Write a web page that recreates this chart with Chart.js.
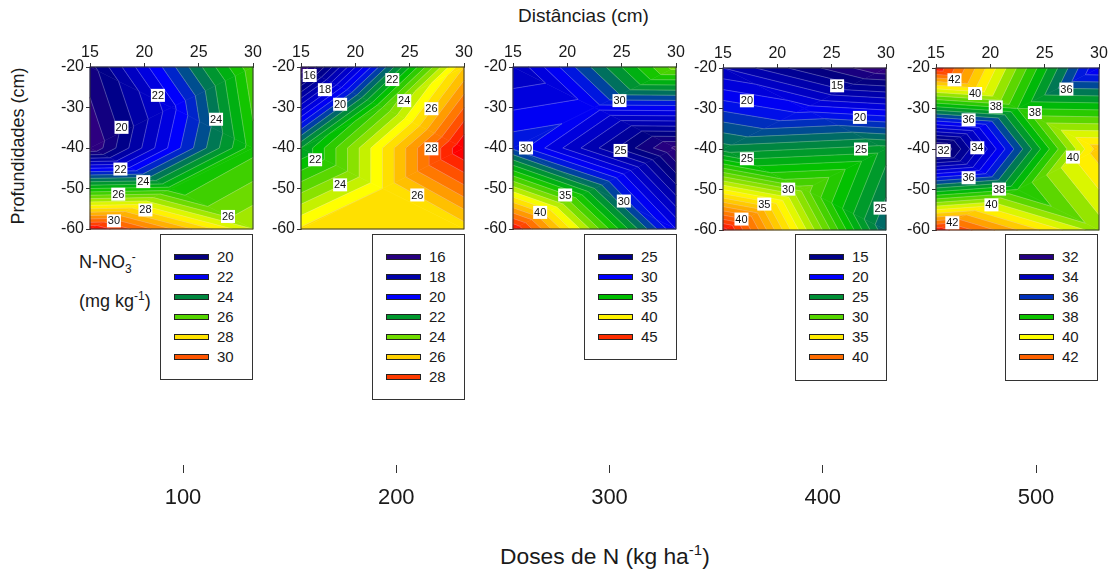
<!DOCTYPE html>
<html>
<head>
<meta charset="utf-8">
<style>
  html, body { margin: 0; padding: 0; background: #fff; width: 1115px; height: 573px; overflow: hidden; }
  body { font-family: 'Liberation Sans', Arial, sans-serif; color: #1a1a1a; position: relative; }
  canvas { position: absolute; }
  .txt { position: absolute; white-space: nowrap; }
  .txt sup, .txt sub { font-size: 12px; line-height: 0; }
  .legend-box { position: absolute; border: 1px solid #333; background: #fff; box-sizing: border-box; }
  .swatch { position: absolute; width: 35px; height: 6px; box-sizing: border-box; border: 1px solid #222; }
  .legend-txt { position: absolute; font-size: 15px; line-height: 16px; }
</style>
</head>
<body>
<div class="txt" style="left:518px;top:5px;font-size:19px;">Distâncias (cm)</div>
<div class="txt" style="left:18px;top:146px;font-size:18px;transform:translate(-50%,-50%) rotate(-90deg);">Profundidades (cm)</div>
<div class="txt" style="left:79px;top:252px;font-size:18px;">N-NO<sub>3</sub><sup>-</sup></div>
<div class="txt" style="left:79px;top:291px;font-size:18px;">(mg kg<sup>-1</sup>)</div>
<div class="txt" style="left:500px;top:543px;font-size:22.8px;">Doses de N (kg ha<sup style="font-size:15px">-1</sup>)</div>
<canvas id="doseAxis" width="940" height="70" style="left:140px;top:440px;"></canvas>
<script src="https://cdn.jsdelivr.net/npm/chart.js@4"></script>
<script>
// --- 1. Data ---
const doses = ['100', '200', '300', '400', '500'];
const xTicks = [15, 20, 25, 30];
const yTicks = [-20, -30, -40, -50, -60];

// sampling points, same for every panel
const nodeX = [15, 30, 22.5, 15, 30, 22.5, 15, 30];
const nodeY = [-20, -20, -30, -40, -40, -50, -60, -60];
const triangles = [[0,1,2],[0,2,3],[1,2,4],[2,3,4],[3,4,5],[3,5,6],[4,5,7],[5,6,7]];

// N-NO3 at each sampling point
const values100 = [19.8, 25.9, 21.8, 19.0, 25.3, 25.2, 31.0, 27.0];
const values200 = [15.5, 26.0, 23.5, 22.0, 29.0, 25.5, 25.6, 25.7];
const values300 = [27.0, 37.5, 29.5, 30.75, 21.75, 33.0, 46.0, 29.0];
const values400 = [17.0, 12.0, 19.5, 24.5, 25.5, 30.5, 43.5, 23.0];
const values500 = [42.9, 35.0, 38.0, 31.6, 40.8, 38.0, 42.8, 39.2];

const steps = [0.5, 0.5, 1, 1, 0.5];
// value that takes the purple, the pure blue and the red end of the colour ramp
const colorMin = [19, 15.5, 21.5, 12, 31.5];
const colorBlue = [22.3, 20, 30, 20, 35.5];
const colorMax = [31, 28.7, 46, 43.5, 43];

// contour labels [x, y, text]
const labels100 = [[21.25,-27,'22'],[17.9,-34.9,'20'],[26.6,-32.9,'24'],[17.8,-45.2,'22'],[19.9,-48.3,'24'],[17.6,-51.4,'26'],[20.1,-55.3,'28'],[17.2,-58,'30'],[27.7,-56.9,'26']];
const labels200 = [[15.8,-22.1,'16'],[17.2,-25.6,'18'],[18.6,-29.2,'20'],[23.4,-23.1,'22'],[24.5,-28.3,'24'],[27,-30.3,'26'],[27,-40.2,'28'],[16.3,-42.9,'22'],[18.6,-49.1,'24'],[25.7,-51.6,'26']];
const labels300 = [[24.8,-28.3,'30'],[16.2,-40,'30'],[24.9,-40.6,'25'],[19.8,-51.6,'35'],[25.2,-53.1,'30'],[17.5,-55.9,'40']];
const labels400 = [[25.5,-24.4,'15'],[17.2,-28.1,'20'],[27.6,-32.2,'20'],[27.7,-40,'25'],[17.2,-42.4,'25'],[21,-49.9,'30'],[18.8,-53.6,'35'],[16.7,-57.3,'40'],[29.5,-54.6,'25']];
const labels500 = [[16.7,-22.9,'42'],[18.6,-26.3,'40'],[20.5,-29.6,'38'],[24.1,-31,'38'],[18,-32.8,'36'],[27,-25.2,'36'],[18.8,-39.7,'34'],[15.7,-40.4,'32'],[27.6,-42,'40'],[18,-47.1,'36'],[20.8,-49.9,'38'],[20.1,-53.8,'40'],[16.5,-58.2,'42']];

const legend100 = [20, 22, 24, 26, 28, 30];
const legend200 = [16, 18, 20, 22, 24, 26, 28];
const legend300 = [25, 30, 35, 40, 45];
const legend400 = [15, 20, 25, 30, 35, 40];
const legend500 = [32, 34, 36, 38, 40, 42];

// --- 2. Layout and colours ---
const panels = [
  { left: 90,  top: 67, values: values100, labels: labels100, legend: legend100, box: [160, 234, 93, 146] },
  { left: 301, top: 67, values: values200, labels: labels200, legend: legend200, box: [372, 234, 93, 166] },
  { left: 513, top: 67, values: values300, labels: labels300, legend: legend300, box: [584, 234, 93, 126] },
  { left: 723, top: 68, values: values400, labels: labels400, legend: legend400, box: [795, 234, 92, 147] },
  { left: 936, top: 68, values: values500, labels: labels500, legend: legend500, box: [1005, 234, 93, 147] }
];
const PANEL_W = 163, PANEL_H = 162;
const AXIS_W = 40, AXIS_H = 30;

const rampPos = [0, 0.09, 0.27, 0.40, 0.50, 0.62, 0.71, 0.78, 0.90, 1];
const rampRgb = [[58,0,128],[0,0,128],[0,0,255],[0,128,72],[0,192,0],[128,224,0],[255,255,0],[255,204,0],[255,102,0],[255,0,0]];

function rampColor(v, i) {
  const mid = colorBlue[i];
  let t = v < mid
    ? (v - colorMin[i]) / (mid - colorMin[i]) * rampPos[2]
    : rampPos[2] + (v - mid) / (colorMax[i] - mid) * (1 - rampPos[2]);
  t = Math.min(1, Math.max(0, t));
  let k = 0;
  while (k < rampPos.length - 2 && t > rampPos[k + 1]) k++;
  const f = (t - rampPos[k]) / (rampPos[k + 1] - rampPos[k]);
  const c = rampRgb[k].map((a, n) => Math.round(a + (rampRgb[k + 1][n] - a) * f));
  return `rgb(${c[0]},${c[1]},${c[2]})`;
}

// keep the part of a polygon on one side of a level
function clipPoly(poly, level, keepAbove) {
  const out = [];
  for (let i = 0; i < poly.length; i++) {
    const a = poly[i], b = poly[(i + 1) % poly.length];
    const aIn = keepAbove ? a.v >= level : a.v <= level;
    const bIn = keepAbove ? b.v >= level : b.v <= level;
    if (aIn) out.push(a);
    if (aIn !== bIn) {
      const f = (level - a.v) / (b.v - a.v);
      out.push({ x: a.x + (b.x - a.x) * f, y: a.y + (b.y - a.y) * f, v: level });
    }
  }
  return out;
}

// --- 3. Plugin that fills the contour bands through the chart's scales ---
const contourPlugin = {
  id: 'contour',
  beforeDatasetsDraw(chart) {
    const { ctx, scales: { x, y } } = chart;
    const idx = chart.options.plugins.contour.panelIndex;
    const nodes = chart.data.datasets[0].data;
    const step = steps[idx];
    const lo = Math.min(...nodes.map(n => n.v));
    const hi = Math.max(...nodes.map(n => n.v));
    const first = Math.floor(lo / step) * step;

    const tracePoly = (poly) => {
      ctx.beginPath();
      poly.forEach((p, n) => {
        const px = x.getPixelForValue(p.x), py = y.getPixelForValue(p.y);
        if (n === 0) ctx.moveTo(px, py); else ctx.lineTo(px, py);
      });
      ctx.closePath();
    };

    ctx.save();
    triangles.forEach(tri => {
      const pts = tri.map(n => nodes[n]);
      for (let level = first; level < hi; level += step) {
        let poly = clipPoly(pts, level, true);
        if (poly.length) poly = clipPoly(poly, level + step, false);
        if (poly.length < 3) continue;
        const col = rampColor(level + step / 2, idx);
        tracePoly(poly);
        ctx.fillStyle = col;
        ctx.strokeStyle = col;
        ctx.lineWidth = 0.6;
        ctx.fill();
        ctx.stroke();
      }
    });
    // thin contour lines
    ctx.strokeStyle = 'rgba(225,225,225,0.4)';
    ctx.lineWidth = 0.7;
    triangles.forEach(tri => {
      const pts = tri.map(n => nodes[n]);
      for (let level = first + step; level < hi; level += step) {
        const cuts = [];
        for (let i = 0; i < 3; i++) {
          const a = pts[i], b = pts[(i + 1) % 3];
          if ((a.v < level) !== (b.v < level)) {
            const f = (level - a.v) / (b.v - a.v);
            cuts.push([x.getPixelForValue(a.x + (b.x - a.x) * f), y.getPixelForValue(a.y + (b.y - a.y) * f)]);
          }
        }
        if (cuts.length === 2) {
          ctx.beginPath();
          ctx.moveTo(cuts[0][0], cuts[0][1]);
          ctx.lineTo(cuts[1][0], cuts[1][1]);
          ctx.stroke();
        }
      }
    });
    ctx.restore();
  },
  afterDatasetsDraw(chart) {
    const { ctx, chartArea: a, scales: { x, y } } = chart;
    ctx.save();
    ctx.strokeStyle = '#333';
    ctx.lineWidth = 1;
    ctx.strokeRect(a.left, a.top, a.right - a.left, a.bottom - a.top);
    // contour labels in white boxes
    ctx.font = "11px 'Liberation Sans', Arial, sans-serif";
    ctx.textAlign = 'center';
    ctx.textBaseline = 'middle';
    chart.data.datasets[1].data.forEach(d => {
      const px = x.getPixelForValue(d.x), py = y.getPixelForValue(d.y);
      ctx.fillStyle = '#fff';
      ctx.fillRect(px - 7, py - 6.5, 14, 13);
      ctx.fillStyle = '#111';
      ctx.fillText(d.text, px, py + 0.5);
    });
    ctx.restore();
  }
};

function fixScale(scale, prop, size) {
  scale[prop] = size;
  scale.paddingLeft = 0; scale.paddingRight = 0; scale.paddingTop = 0; scale.paddingBottom = 0;
}

// --- 4. One chart per dose ---
panels.forEach((p, i) => {
  const canvas = document.createElement('canvas');
  canvas.width = AXIS_W + PANEL_W + 15;
  canvas.height = AXIS_H + PANEL_H + 12;
  canvas.style.left = (p.left - AXIS_W) + 'px';
  canvas.style.top = (p.top - AXIS_H) + 'px';
  document.body.appendChild(canvas);

  const axisFont = { family: "'Liberation Sans', Arial, sans-serif", size: 16 };
  new Chart(canvas.getContext('2d'), {
    type: 'scatter',
    data: {
      datasets: [
        { label: 'N-NO3', data: nodeX.map((x, n) => ({ x, y: nodeY[n], v: p.values[n] })), pointRadius: 0 },
        { label: 'contour labels', data: p.labels.map(l => ({ x: l[0], y: l[1], text: l[2] })), pointRadius: 0 }
      ]
    },
    options: {
      responsive: false,
      animation: false,
      events: [],
      layout: { padding: { left: 0, top: 0, right: 15, bottom: 12 } },
      plugins: { legend: { display: false }, tooltip: { enabled: false }, contour: { panelIndex: i } },
      scales: {
        x: {
          type: 'linear', position: 'top', min: 15, max: 30,
          afterBuildTicks: s => { s.ticks = xTicks.map(value => ({ value })); },
          afterFit: s => fixScale(s, 'height', AXIS_H),
          border: { color: '#333' },
          grid: { drawOnChartArea: false, tickLength: 4, tickColor: '#333' },
          ticks: { color: '#1a1a1a', font: axisFont, padding: 1, maxRotation: 0, autoSkip: false }
        },
        y: {
          type: 'linear', min: -60, max: -20,
          afterBuildTicks: s => { s.ticks = yTicks.map(value => ({ value })); },
          afterFit: s => fixScale(s, 'width', AXIS_W),
          border: { color: '#333' },
          grid: { drawOnChartArea: false, tickLength: 4, tickColor: '#333' },
          ticks: { color: '#1a1a1a', font: axisFont, padding: 2, autoSkip: false }
        }
      }
    },
    plugins: [contourPlugin]
  });

  // legend box
  const box = document.createElement('div');
  box.className = 'legend-box';
  box.style.cssText = `left:${p.box[0]}px;top:${p.box[1]}px;width:${p.box[2]}px;height:${p.box[3]}px;`;
  p.legend.forEach((v, n) => {
    const sw = document.createElement('div');
    sw.className = 'swatch';
    sw.style.cssText = `left:13px;top:${19 + n * 20}px;background:${rampColor(v, i)};`;
    const tx = document.createElement('div');
    tx.className = 'legend-txt';
    tx.style.cssText = `left:56px;top:${14 + n * 20}px;`;
    tx.textContent = v;
    box.appendChild(sw);
    box.appendChild(tx);
  });
  document.body.appendChild(box);
});

// --- 5. Dose axis along the bottom ---
new Chart(document.getElementById('doseAxis').getContext('2d'), {
  type: 'scatter',
  data: { labels: doses, datasets: [{ data: doses.map(d => ({ x: d, y: 0 })), pointRadius: 0 }] },
  options: {
    responsive: false,
    animation: false,
    events: [],
    layout: { padding: { left: 43, right: 44, top: 25, bottom: 0 } },
    plugins: { legend: { display: false }, tooltip: { enabled: false } },
    scales: {
      x: {
        type: 'category', offset: false,
        afterFit: s => fixScale(s, 'height', 45),
        border: { display: false },
        grid: { drawOnChartArea: false, tickLength: 8, tickColor: '#333' },
        ticks: { color: '#1a1a1a', font: { family: "'Liberation Sans', Arial, sans-serif", size: 22 }, padding: 12, maxRotation: 0, autoSkip: false }
      },
      y: { display: false }
    }
  }
});
</script>
</body>
</html>
